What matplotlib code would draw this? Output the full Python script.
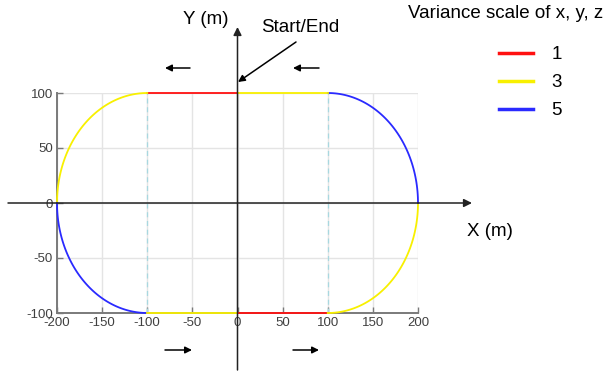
import numpy as np
import matplotlib
matplotlib.use('Agg')
import matplotlib.pyplot as plt

plt.rcParams['axes.unicode_minus'] = False

# track: straight parts and quarter arcs, in driving order from Start/End (0, 100)
seg_kind = ['line', 'arc', 'arc', 'line', 'line', 'arc', 'arc', 'line']
seg_var = [1, 3, 5, 3, 1, 3, 5, 3]
line_start = [(0, 100), None, None, (-100, -100), (0, -100), None, None, (100, 100)]
line_end = [(-100, 100), None, None, (0, -100), (100, -100), None, None, (0, 100)]
arc_center = [None, (-100, 0), (-100, 0), None, None, (100, 0), (100, 0), None]
arc_deg = [None, (90, 180), (180, 270), None, None, (-90, 0), (0, 90), None]
radius = 100

var_colors = {1: '#ff1010', 3: '#f8f000', 5: '#2a2aff'}

xticks = [-200, -150, -100, -50, 0, 50, 100, 150, 200]
yticks = [-100, -50, 0, 50, 100]

label_font = ['Liberation Sans', 'DejaVu Sans']
tick_font = ['Liberation Sans', 'DejaVu Sans']
fs = 13.5

fig = plt.figure(figsize=(6.07, 3.73), dpi=100)
ax = fig.add_axes([57/607, 60/373, 361/607, 220/373])

done = set()
for k in range(len(seg_kind)):
    if seg_kind[k] == 'line':
        xs = [line_start[k][0], line_end[k][0]]
        ys = [line_start[k][1], line_end[k][1]]
    else:
        t = np.radians(np.linspace(arc_deg[k][0], arc_deg[k][1], 60))
        xs = arc_center[k][0] + radius * np.cos(t)
        ys = arc_center[k][1] + radius * np.sin(t)
    v = seg_var[k]
    lab = str(v) if v not in done else None
    done.add(v)
    ax.plot(xs, ys, color=var_colors[v], lw=1.3, label=lab, zorder=3, clip_on=False)

# dashed marks where straights meet the arcs
for xv in [-100, 100]:
    ax.plot([xv, xv], [-100, 100], color='#a8d8e0', lw=0.9, ls=(0, (4, 3)), zorder=2)

ax.set_xlim(-200, 200)
ax.set_ylim(-100, 100)
ax.set_xticks(xticks)
ax.set_yticks(yticks)
ax.grid(True, color='#e4e4e4', lw=1)
ax.set_axisbelow(True)
for s in ['top', 'right']:
    ax.spines[s].set_visible(False)
for s in ['left', 'bottom']:
    ax.spines[s].set_color('#7a7a7a')
    ax.spines[s].set_linewidth(1.4)
    ax.spines[s].set_zorder(1)
ax.tick_params(direction='in', length=4, width=1, color='#7a7a7a',
               labelcolor='#404040', labelsize=9.5, pad=3)
for lb in ax.get_xticklabels() + ax.get_yticklabels():
    lb.set_family(tick_font)

# coordinate axes through origin
ax.annotate('', xy=(472/607, 0), xytext=(8/607, 0),
            xycoords=('figure fraction', 'data'), textcoords=('figure fraction', 'data'),
            arrowprops=dict(arrowstyle='-|>', color='#222222', lw=1.1,
                            mutation_scale=12, shrinkA=0, shrinkB=0), annotation_clip=False)
ax.annotate('', xy=(0, 346/373), xytext=(0, 3/373),
            xycoords=('data', 'figure fraction'), textcoords=('data', 'figure fraction'),
            arrowprops=dict(arrowstyle='-|>', color='#222222', lw=1.1,
                            mutation_scale=12, shrinkA=0, shrinkB=0), annotation_clip=False)

fig.text(206/607, 1 - 20/373, 'Y (m)', ha='center', va='center', fontsize=fs, family=label_font)
fig.text(490/607, 1 - 232/373, 'X (m)', ha='center', va='center', fontsize=fs, family=label_font)
fig.text(300/607, 1 - 27/373, 'Start/End', ha='center', va='center', fontsize=fs, family=label_font)
fig.text(506/607, 1 - 14/373, 'Variance scale of x, y, z', ha='center', va='center',
         fontsize=fs, family=label_font)

arr = dict(arrowstyle='-|>', color='black', lw=1.1, mutation_scale=10, shrinkA=0, shrinkB=0)
ax.annotate('', xy=(238/607, 1 - 82/373), xytext=(296/607, 1 - 42/373),
            xycoords='figure fraction', arrowprops=arr, annotation_clip=False)
for x0, x1 in [(190, 165), (319, 293)]:
    ax.annotate('', xy=(x1/607, 1 - 68/373), xytext=(x0/607, 1 - 68/373),
                xycoords='figure fraction', arrowprops=arr, annotation_clip=False)
for x0, x1 in [(165, 192), (293, 319)]:
    ax.annotate('', xy=(x1/607, 1 - 350/373), xytext=(x0/607, 1 - 350/373),
                xycoords='figure fraction', arrowprops=arr, annotation_clip=False)

handles, labels = ax.get_legend_handles_labels()
order = sorted(range(len(labels)), key=lambda i: int(labels[i]))
leg = fig.legend([handles[i] for i in order], [labels[i] for i in order],
                 loc='upper left', bbox_to_anchor=(499/607, 1 - 46/373),
                 frameon=False, handlelength=1.8, handletextpad=1.0, labelspacing=0.58,
                 prop={'family': label_font, 'size': fs}, borderaxespad=0, borderpad=0)
for ln in leg.get_lines():
    ln.set_linewidth(2.5)

fig.savefig('out.png', dpi=100)
